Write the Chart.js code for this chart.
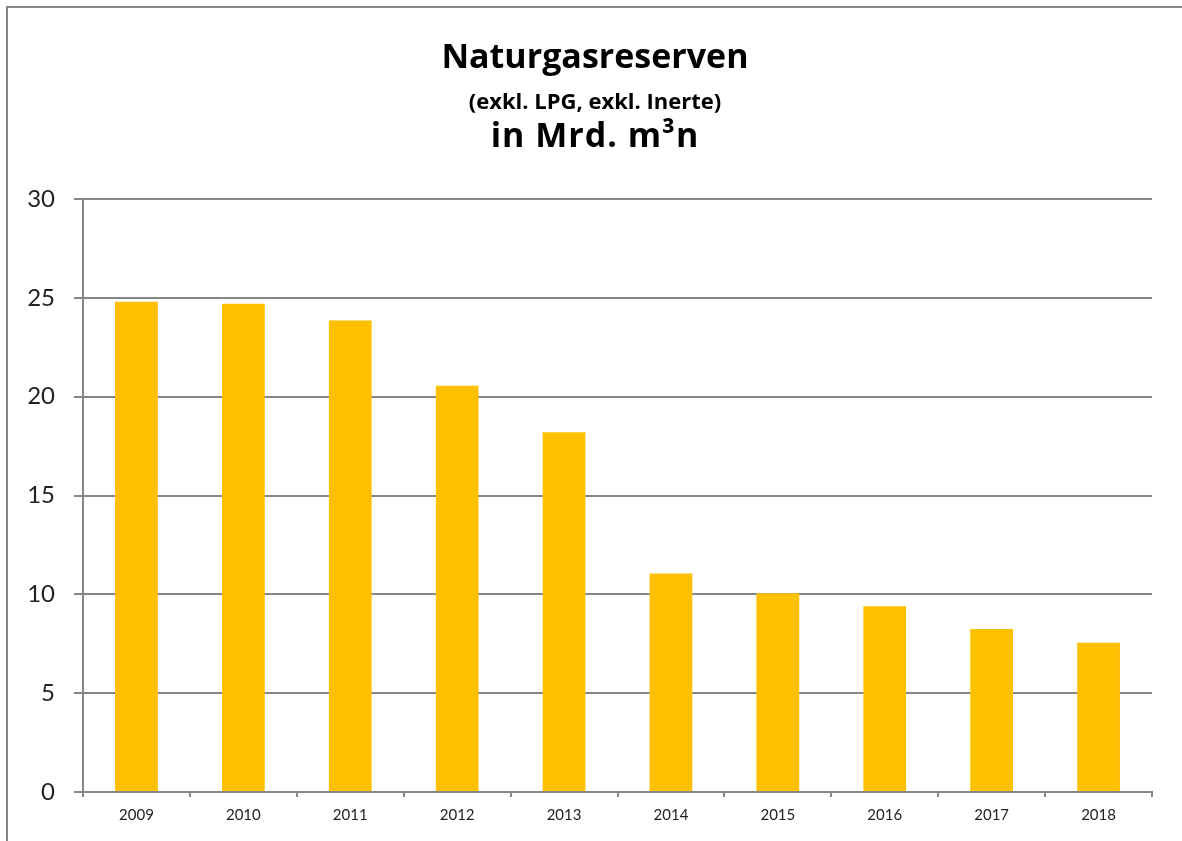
<!DOCTYPE html>
<html>
<head>
<meta charset="utf-8">
<script src="https://cdn.jsdelivr.net/npm/chart.js@4/dist/chart.umd.min.js"></script>
<style>
  html, body { margin: 0; padding: 0; background: #fff; }
  #wrap { position: relative; width: 1182px; height: 841px; overflow: hidden; }
  #frame { position: absolute; left: 6px; top: 6px; right: -10px; bottom: -10px;
           border-left: 2px solid #868686; border-top: 2px solid #868686; }
  .ttl { position: absolute; left: 0; width: 1190px; text-align: center;
         font-family: "Open Sans", sans-serif; font-weight: bold; color: #000; line-height: 1.2; white-space: nowrap; }
  #c { position: absolute; left: 0; top: 0; }
</style>
</head>
<body>
<div id="wrap">
  <div id="frame"></div>
  <canvas id="c" width="1182" height="841"></canvas>
  <div class="ttl" style="top:35px;font-size:34px;">Naturgasreserven</div>
  <div class="ttl" style="top:87px;font-size:22px;">(exkl. LPG, exkl. Inerte)</div>
  <div class="ttl" style="top:114px;font-size:34px;letter-spacing:1px;">in Mrd. m³n</div>
</div>
<script>
const years = ['2009', '2010', '2011', '2012', '2013', '2014', '2015', '2016', '2017', '2018'];
const reserves = [24.8, 24.7, 23.85, 20.55, 18.2, 11.05, 10.05, 9.4, 8.25, 7.55];
const yTicks = [0, 5, 10, 15, 20, 25, 30];

const gridGray = '#868686';

new Chart(document.getElementById('c').getContext('2d'), {
  type: 'bar',
  data: {
    labels: years,
    datasets: [{
      data: reserves,
      backgroundColor: '#FFC000',
      barPercentage: 0.4,
      categoryPercentage: 1,
    }],
  },
  options: {
    responsive: false,
    animation: false,
    layout: { padding: { left: 0, right: 30, top: 199, bottom: 0 } },
    plugins: {
      legend: { display: false },
      tooltip: { enabled: false },
    },
    scales: {
      x: {
        grid: { offset: true, drawOnChartArea: false, drawTicks: true, tickLength: 5, color: gridGray, lineWidth: 2 },
        border: { display: true, color: gridGray, width: 2 },
        ticks: { font: { family: 'Lato', size: 15 }, color: '#222', padding: 9, maxRotation: 0 },
        afterFit: (s) => { s.height = 49; },
      },
      y: {
        min: 0,
        max: 30,
        afterBuildTicks: (s) => { s.ticks = yTicks.map(v => ({ value: v })); },
        grid: { color: gridGray, lineWidth: 2, tickLength: 9 },
        border: { display: true, color: gridGray, width: 2 },
        ticks: { font: { family: 'Lato', size: 24 }, color: '#222', padding: 19 },
        afterFit: (s) => { s.width = 83; },
      },
    },
  },
});
</script>
</body>
</html>
